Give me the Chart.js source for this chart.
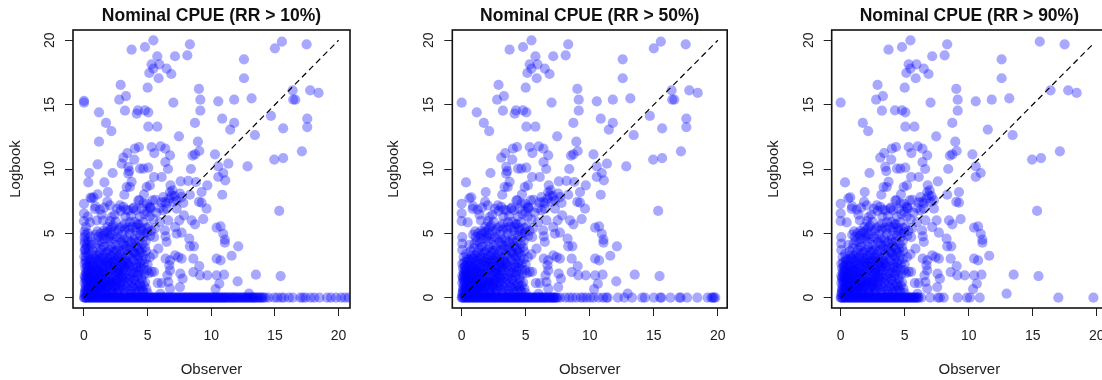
<!DOCTYPE html>
<html><head><meta charset="utf-8">
<script src="https://cdn.jsdelivr.net/npm/chart.js@4"></script>
<style>
html,body{margin:0;padding:0;width:1102px;height:380px;overflow:hidden;background:#fff}
canvas{position:absolute;top:0;filter:blur(0.4px)}
</style></head><body>
<canvas id="c0" width="360" height="380"></canvas><canvas id="c1" width="360" height="380"></canvas><canvas id="c2" width="360" height="380"></canvas>
<script>
const titles = ["Nominal CPUE (RR > 10%)","Nominal CPUE (RR > 50%)","Nominal CPUE (RR > 90%)"];
const xLabel = "Observer";
const yLabel = "Logbook";
const tickValues = [0,5,10,15,20];

// points visible in all three panels, [observer, logbook]
const upperAll = [[3.74,19.27],[4.79,19.48],[5.45,20],[8.32,19.69],[8.12,18.83],[7.15,18.76],[5.31,18.13],[5.92,18.13],[5.45,17.8],[5.13,17.46],[6.49,17.8],[6.86,17.38],[5.86,17.05],[5.0,16.32],[2.88,16.53],[3.3,15.67],[2.77,15.39],[3.22,14.53] ,[4.24,14.56],[4.79,14.56],[5.05,14.4],[5.05,13.29],[5.76,13.29],[1.73,13.58],[2.15,12.95],[7.46,12.54],[7.02,15.16],[9.03,16.22],[9.14,15.39],[9.14,14.53],[8.72,13.58],[8.95,12.12],[9.06,11.4],[8.72,11.14],[8.53,11.04],[10.55,15.26],[11.8,15.39],[13.17,15.49],[12.57,18.52],[12.57,17.05],[11.49,13.06],[13.43,12.64],[15.55,19.9],[17.49,19.69],[16.39,16.11],[17.77,16.11],[18.43,15.91],[17.12,11.37],[14.95,10.73],[15.65,10.85],[15.34,6.74],[15.45,1.68],[13.51,1.79],[0,15.15]];
const midAll = [[6.02,11.76],[5.31,11.71],[5.52,11.24],[6.39,11.58],[6.76,11.06],[6.39,10.54],[6.6,10.0],[4.32,11.71],[4.0,11.58],[3.4,11.24],[3.09,10.88],[3.95,10.73],[3.48,10.16],[3.56,9.84],[2.25,9.69],[4.4,10.03],[4.66,10.03],[5.05,10.1],[5.5,9.38],[6.1,9.38],[0.34,8.96],[1.88,8.21],[0.6,7.72],[3.17,8.0],[3.35,8.6],[3.74,9.0],[3.6,8.6],[5.18,8.73],[4.92,8.6],[4.71,8.03],[4.27,7.56],[8.4,10],[7.59,9.04],[6.8,8.73],[9.24,8.21],[8.32,8.0],[9.03,7.44],[9.24,7.38],[9.37,6.11],[7.49,6.01],[7.15,5.49],[7.67,5.05],[8.46,6.01],[8.72,5.7],[8.27,4.59],[8.64,3.99],[8.32,3.99],[8.59,3.03],[9.06,2.46],[8.59,1.99],[9.11,1.74],[9.69,1.74],[10.42,1.74],[11,1.79],[10.63,1.09],[10.34,0.67],[11.6,3.26],[10.42,3.03],[10.73,2.9],[10.42,5.44],[10.73,5.54],[10.94,4.97],[11.07,4.51],[11.07,4.27],[10.29,11.14],[10.55,10.2],[10.94,9.69],[10.55,9.38],[12.96,0.31],[6.23,7.82],[6.36,7.44],[6.76,8.21],[6.89,7.95],[7.28,7.56],[7.02,7.44],[7.28,6.92],[6.23,6.79],[6.62,6.01],[5.97,5.88],[6.36,5.23],[6.41,4.77],[6.49,4.33],[5.84,3.81],[5.45,3.37],[5.18,3.16],[6.41,3.03],[6.76,2.9],[7.15,3.29],[7.41,3.16],[7.67,3.03],[6.7,2.51],[6.76,2.12],[6.55,1.74],[7.57,1.87],[7.75,1.48],[7.54,0.83],[6.76,0.7],[6.62,1.22],[6.1,1.14],[5.79,1.14],[5.31,2.0],[6,0.3],[5.5,2.0],[6.08,7.4],[5.6,7.6],[6.5,7.35],[6.95,8.35]];
const lowerEdge = [[0,7.3],[0,6.55],[0,5.95],[0.47,5.85],[0.86,6.9],[1.25,6.85],[1.39,6.45],[1.83,7.44],[2.04,7.18],[2.17,6.27],[2.04,5.95],[2.83,7.18],[2.88,6.74],[3.48,6.79],[3.87,6.92],[3.61,5.88],[3.22,5.75],[4.35,7.56],[4.66,7.31],[4.53,6.92],[5.18,7.05],[5.23,6.92],[5.39,7.56],[4.97,6.66],[4.14,5.49],[4.66,5.88],[5.05,5.49],[2.7,5.23],[2.17,5.49],[3.3,6.85],[4.3,5.7],[3.0,5.55],[1.66,5.0]];
const midExtra = [[0.75,7.8],[0.9,7.1],[1.6,7.0],[2.4,6.45],[2.6,6.9],[3.1,7.05],[3.25,6.3],[3.7,6.35],[3.9,7.0],[4.1,6.8],[4.4,6.3],[4.75,6.5],[4.95,7.3],[5.2,7.0],[5.15,6.3],[5.45,6.1],[5.6,5.4],[5.3,5.2],[1.5,6.0],[1.85,5.5],[2.5,5.9],[3.55,5.3],[4.5,5.4],[4.95,5.1],[3.95,5.9],[6.7,7.7],[6.5,6.9],[7.1,7.9],[5.95,6.95],[5.7,6.6]];
// points in the lowest corner, shared by all panels
const dense = [[0.9,4.9],[1.1,4.7],[1.3,5.0],[1.5,4.8],[1.8,5.1],[1.9,4.6],[2.2,4.9],[2.4,5.2],[2.6,4.7],[2.8,5.4],[3.0,4.9],[3.2,5.3],[3.4,4.6],[3.6,5.0],[3.8,5.5],[4.0,4.8],[4.2,5.7],[4.3,4.4],[4.5,5.2],[4.7,4.7],[4.9,5.4],[5.2,4.8],[5.5,4.7],[1.0,4.2],[1.4,4.3],[1.7,4.0],[2.1,4.4],[2.5,4.1],[2.9,4.3],[3.3,4.0],[3.7,4.3],[4.1,4.0],[4.6,4.2],[4.8,3.9],[0.6,4.1],
[0.35,3.4],[0.7,3.6],[1.05,3.3],[1.35,3.75],[1.6,3.45],[1.95,3.7],[2.25,3.3],[2.55,3.65],[2.85,3.4],[3.15,3.75],[3.45,3.35],[3.75,3.7],[4.05,3.35],[4.35,3.65],[4.65,3.3],[4.88,3.6],[0.15,3.15],[0.85,3.1],[1.25,3.05],[1.8,3.1],[2.4,3.0],[2.75,3.05],[3.25,3.1],[3.8,3.05],[4.2,3.0],[4.55,3.75],
[0.2,2.75],[0.45,2.55],[0.75,2.85],[1.0,2.45],[1.3,2.7],[1.55,2.35],[1.85,2.8],[2.1,2.5],[2.35,2.75],[2.65,2.4],[2.95,2.8],[3.2,2.45],[3.5,2.7],[3.85,2.35],[4.15,2.65],[4.45,2.3],[4.7,2.6],[4.95,2.15],[0.1,2.3],[0.6,2.2],[0.9,2.15],[1.2,2.05],[1.7,2.1],[2.0,2.2],[2.5,2.05],[2.8,2.15],[3.05,2.05],[3.65,2.1],[4.0,1.95],[4.3,2.05],[4.75,1.85],[5.1,1.9],[1.45,2.6],[2.2,2.9],[3.35,2.85],
[0.2,1.85],[0.4,1.95],[0.65,1.65],[0.95,1.8],[1.15,1.55],[1.4,1.85],[1.65,1.5],[1.9,1.75],[2.15,1.45],[2.45,1.7],[2.7,1.5],[2.95,1.75],[3.3,1.55],[3.55,1.8],[3.9,1.45],[4.2,1.65],[4.55,1.4],[0.1,1.45],[0.35,1.35],[0.55,1.25],[0.8,1.4],[1.05,1.2],[1.3,1.35],[1.55,1.15],[1.8,1.3],[2.05,1.1],[2.3,1.25],[2.6,1.1],[2.9,1.2],[3.2,1.05],[3.75,1.15],[4.05,1.05],[4.4,1.1],[4.7,0.95],[4.9,0.7],
[0.15,0.95],[0.3,0.8],[0.5,0.95],[0.7,0.75],[0.9,0.9],[1.1,0.7],[1.35,0.85],[1.6,0.7],[1.85,0.85],[2.1,0.7],[2.45,0.8],[2.75,0.65],[3.0,0.75],[3.5,0.65],[3.95,0.7],[4.35,0.6],[4.65,0.45],[0.1,0.55],[0.25,0.4],[0.45,0.55],[0.65,0.35],[0.85,0.5],[1.05,0.35],[1.25,0.5],[1.5,0.35],[1.75,0.45],[2.0,0.3],[2.25,0.4],[2.6,0.35],[3.25,0.35],[3.7,0.3],[4.2,0.3],
[0.05,0.25],[0.1,0.7],[0.05,1.15],[0.05,1.7],[0.3,1.55],[0.25,1.15],[0.4,0.65],[0.6,0.6],[0.75,1.05],[0.55,1.5],[0.8,1.95],[1.0,1.45],[1.2,0.95],[1.45,1.05],[1.65,0.95],[1.95,1.0],[2.2,0.95],[2.55,1.45],[0.35,2.15],[0.5,1.75],[0.7,2.4],[1.1,2.25],[1.35,1.95],[1.6,1.85],[1.85,2.45],[2.3,2.15],[2.6,1.95],[3.1,2.3],[0.25,1.7],[0.45,1.05],[0.2,0.6],[0.65,1.1],[0.85,1.2],[1.15,1.05],[0.95,0.55],[0.7,0.5],[0.35,0.25],[0.55,0.2],[0.8,0.25],[1.15,0.2],[1.4,0.65],[0.15,2.0],[0.3,2.45],[0.55,2.95],[0.95,3.0],[1.5,3.1],[1.15,2.85],[0.05,2.65],[0.05,3.7],[0.05,4.2],[0.05,4.7],[0.4,3.0],[2.0,3.0],[2.3,3.55],[2.7,2.9],[3.0,3.2]];
const denseMore = [[0.08,0.4],[0.18,1.3],[0.28,2.1],[0.38,0.9],[0.48,1.6],[0.58,0.3],[0.68,2.6],[0.78,1.5],[0.88,0.7],[0.98,2.1],[1.08,1.0],[1.18,1.7],[1.28,0.4],[1.38,2.4],[1.48,0.9],[0.12,1.6],[0.22,2.4],[0.32,0.5],[0.42,2.8],[0.52,1.15],[0.62,1.9],[0.72,0.85],[0.82,2.3],[0.92,1.3],[1.02,0.25],[1.12,2.6],[1.22,1.5],[1.32,0.75],[1.42,1.6],[1.52,2.0],
[1.58,0.55],[1.68,1.2],[1.78,2.6],[1.88,0.25],[1.98,1.5],[2.08,2.05],[2.18,0.5],[2.28,1.7],[2.38,2.5],[2.48,0.9],[2.58,1.3],[2.68,2.2],[2.78,0.45],[2.88,1.6],[2.98,2.6],[3.08,1.3],[3.18,0.55],[3.28,2.1],[3.38,1.15],[3.48,2.4],[1.62,2.8],[1.72,0.8],[1.82,1.9],[1.92,1.2],[2.02,2.7],[2.12,1.25],[2.22,0.35],[2.32,2.35],[2.42,1.05],[2.52,2.85],[2.62,0.7],[2.72,1.85],[2.82,0.95],[2.92,2.4],[3.02,1.5],[3.12,2.75],[3.22,1.8],[3.32,0.85],[3.42,2.6],[3.52,1.4],
[3.6,2.5],[3.7,1.6],[3.8,0.85],[3.9,2.9],[4.0,1.3],[4.1,2.3],[4.2,0.9],[4.3,1.8],[4.4,2.7],[4.5,1.55],[4.6,0.6],[4.7,2.2],[3.65,0.5],[3.85,1.9],[4.05,0.45],[4.25,2.4],[4.5,0.85],[4.8,1.2],[5.0,0.35],[5.0,2.6],[3.95,3.5],[4.25,3.2],[4.55,2.9],[4.85,3.0],
[0.75,3.3],[0.95,3.85],[1.2,3.5],[1.45,3.25],[1.55,3.95],[1.8,3.55],[2.05,3.3],[2.15,3.95],[2.4,3.7],[2.65,3.2],[2.7,3.9],[3.0,3.6],[3.1,4.15],[3.4,3.8],[3.55,3.2],[3.65,3.9],[3.9,3.6],[4.05,4.3],[4.25,3.9],[4.45,3.5],[1.2,4.45],[1.6,4.55],[2.0,4.75],[2.35,4.55],[2.8,4.6],[3.15,4.55],[3.5,4.35],[3.95,4.5],[4.4,4.85],[4.75,5.0],[1.05,5.15],[1.55,5.2],[2.05,5.25],[3.45,5.45],[4.1,5.2],[2.3,5.6],[4.85,4.4]];
// zero-logbook rows, values of the observer
const zeroRow1 = [0,0.12,0.25,0.4,0.55,0.7,0.85,1,1.15,1.3,1.45,1.6,1.75,1.9,2.05,2.2,2.35,2.5,2.65,2.8,2.95,3.1,3.25,3.4,3.55,3.7,3.85,4,4.15,4.3,4.45,4.6,4.75,4.9,5.05,5.2,5.35,5.5,5.65,5.8,5.95,6.1,6.25,6.4,6.55,6.7,6.85,7,7.15,7.3,7.45,7.6,7.75,7.9,8.05,8.2,8.35,8.5,8.65,8.8,8.95,9.1,9.25,9.4,9.55,9.7,9.85,10,10.15,10.3,10.45,10.6,10.75,10.9,11.05,11.2,11.35,11.55,11.7,11.85,12.05,12.2,12.4,12.55,12.75,12.9,13.1,13.25,13.4,13.6,13.8,14,14.25,14.5,14.95,15.2,15.5,15.7,16.1,16.4,17,17.2,17.4,17.8,18.1,18.5,19.1,19.4,19.8,20.2,20.5,20.8];
const zeroRow2 = [0,0.12,0.25,0.4,0.55,0.7,0.85,1,1.15,1.3,1.45,1.6,1.75,1.9,2.05,2.2,2.35,2.5,2.65,2.8,2.95,3.1,3.25,3.4,3.55,3.7,3.85,4,4.15,4.3,4.45,4.6,4.75,4.9,5.05,5.2,5.35,5.5,5.65,5.8,5.95,6.1,6.25,6.4,6.55,6.7,6.9,7.05,7.2,7.35,7.5,7.7,8.1,8.4,8.65,8.95,9.3,9.5,9.75,10.05,10.3,10.7,11.05,11.3,11.4,12.2,12.7,13.3,14.1,14.3,15,15.5,15.6,16.3,17,17.1,17.6,18.4,19.2,19.5,19.6,19.7,19.8];
const zeroRow3 = [0,0.12,0.25,0.4,0.55,0.7,0.85,1,1.15,1.3,1.45,1.6,1.75,1.9,2.05,2.2,2.35,2.5,2.65,2.8,2.95,3.1,3.25,3.4,3.55,3.7,3.85,4,4.15,4.3,4.45,4.6,4.75,4.9,5.05,5.2,5.35,5.5,5.65,5.8,5.95,6.1,6.3,7,7.6,7.75,8.05,9.14,9.87,10.1,10.86,17,19.74];
const zeroNear = [0.05,0.18,0.32,0.48,0.62,0.78,0.92,1.08,1.22,1.38,1.52,1.68,1.82,1.98,2.12,2.28,2.42,2.58,2.72,2.88,3.02,3.18,3.32,3.48,3.62,3.78,3.92,4.08,4.22,4.38,4.52,4.68,4.82,4.98,5.12,5.28,5.42,5.58,5.72,5.88,6.02];
const zeroMid = [6.18,6.32,6.48,6.62,6.78,6.92,7.08,7.22,7.38];
const zeroFar = [7.52,7.68,7.82,7.98,8.12,8.28,8.42,8.58,8.72,8.88,9.02,9.18,9.32,9.48,9.62,9.78,9.92,10.08,10.22,10.38,10.52,10.68,10.82,10.98,11.12,11.28,11.45,11.62,11.78,11.95,12.12,12.3,12.48,12.65,12.82,13.0,13.18,13.32,13.5,13.7,13.9,14.1];
// points only in the first two panels
const extraBoth = [[1.18,14.4],[15.0,19.38],[14.69,14.12],[16.44,15.39],[16.6,15.39],[17.54,13.91],[17.54,13.26],[15.65,13.16],[10.86,13.91],[11.8,13.58],[12.85,10.2],[10.86,8.0],[9.69,8.73],[9.63,6.92],[11.34,10.41],[8.19,9.07],[11.1,9.12],[12.12,3.99],[12.07,1.27],[4.14,14.3],[5.76,18.76],[3.48,9.64],[7.85,6.4],[7.28,4.97],[7.54,8.08],[7.8,7.36],[7.67,7.82],[8.8,8.99]];
// points only in the first panel
const extraFirst = [[0,15.3],[1.18,12.12],[1.07,10.36],[0.42,9.69],[2.96,10.41],[1.6,8.96],[1.07,8.03],[0.52,7.77],[0.05,5.15],[0.05,4.4],[0.02,3.2],[0.1,3.75],[0.3,5.0],[0.12,2.9],[0.3,4.4],[0.2,3.9],[0.5,4.75],[0.25,4.15],[0.45,4.3],[0.1,4.9],[0.15,3.5],[0.4,3.7],[0.15,5.5],[0.3,6.3],[1.0,6.0]];
// the identity line on each panel
const diagonalEnds = [20,20,19.8];

const scaleRanges = [[-0.864,20.9],[-0.73,20.73],[-0.7,20.8]];
const yRange = [-0.8,20.8];
const canvasLeft = [0,378,758];
const axisRoom = [73,74.3,73.7];
const rightRoom = [10,10.3,11];

const frame = {id:'frame',afterDatasetsDraw(c){const a=c.chartArea,g=c.ctx;g.save();g.strokeStyle='#111';g.lineWidth=1.6;g.strokeRect(a.left,a.top,a.right-a.left,a.bottom-a.top);g.restore();}};
const toPts = a => a.map(p=>({x:p[0],y:p[1]}));
const rows = [zeroRow1.concat(zeroNear,zeroMid,zeroFar),zeroRow2.concat(zeroNear,zeroMid),zeroRow3.concat(zeroNear)];
const font = {family:'"Liberation Sans",Arial,sans-serif',size:14};

[0,1,2].forEach(i=>{
  const el=document.getElementById('c'+i);
  el.style.left=canvasLeft[i]+'px';
  let pts=[...upperAll,...midAll,...lowerEdge,...midExtra,...dense,...denseMore];
  if(i<2) pts=pts.concat(extraBoth);
  if(i===0) pts=pts.concat(extraFirst);
  pts=pts.concat(rows[i].map(x=>[x,0]));
  new Chart(el,{
    type:'scatter',
    data:{datasets:[
      {data:[{x:0,y:0},{x:diagonalEnds[i],y:diagonalEnds[i]}],showLine:true,pointRadius:0,borderColor:'#000',borderWidth:1.2,borderDash:[6,4],order:0,clip:0},
      {data:toPts(pts),pointRadius:5.1,pointBorderWidth:0,pointBackgroundColor:'rgba(0,0,255,0.34)',order:1,clip:0}
    ]},
    plugins:[frame],
    options:{
      responsive:false,animation:false,
      layout:{padding:{left:0,right:rightRoom[i],top:0,bottom:0}},
      plugins:{
        legend:{display:false},tooltip:{enabled:false},
        title:{display:true,text:titles[i],color:'#111',fullSize:false,font:{family:font.family,size:17.5,weight:'bold',lineHeight:1},padding:{top:7,bottom:5.5}}
      },
      scales:{
        x:{type:'linear',min:scaleRanges[i][0],max:scaleRanges[i][1],
          afterFit(s){s.height=72;},
          afterBuildTicks(s){s.ticks=s.ticks.filter(t=>tickValues.includes(t.value));},
          border:{display:false},
          grid:{drawOnChartArea:false,drawTicks:true,tickLength:8,color:'#222',lineWidth:1},
          ticks:{stepSize:5,includeBounds:false,autoSkip:false,maxRotation:0,font,color:'#222',padding:12},
          title:{display:true,text:xLabel,color:'#222',font:{family:font.family,size:15,lineHeight:1.2},padding:{top:0,bottom:1.5}}
        },
        y:{type:'linear',min:yRange[0],max:yRange[1],
          afterFit(s){s.width=axisRoom[i];},
          afterBuildTicks(s){s.ticks=s.ticks.filter(t=>tickValues.includes(t.value));},
          border:{display:false},
          grid:{drawOnChartArea:false,drawTicks:true,tickLength:8,color:'#222',lineWidth:1},
          ticks:{stepSize:5,includeBounds:false,autoSkip:false,minRotation:90,maxRotation:90,crossAlign:'center',font,color:'#222',padding:7},
          title:{display:true,text:yLabel,color:'#222',font:{family:font.family,size:15,lineHeight:1.2},padding:{top:7,bottom:0}}
        }
      }
    }
  });
});
</script>
</body></html>
